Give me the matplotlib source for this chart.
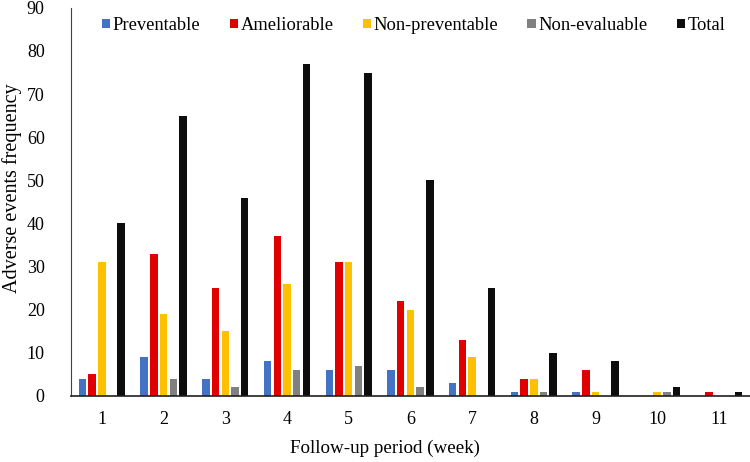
import matplotlib
matplotlib.use('Agg')
import matplotlib.pyplot as plt
import numpy as np

weeks = ['1', '2', '3', '4', '5', '6', '7', '8', '9', '10', '11']
preventable = [4, 9, 4, 8, 6, 6, 3, 1, 1, 0, 0]
ameliorable = [5, 33, 25, 37, 31, 22, 13, 4, 6, 0, 1]
non_preventable = [31, 19, 15, 26, 31, 20, 9, 4, 1, 1, 0]
non_evaluable = [0, 4, 2, 6, 7, 2, 0, 1, 0, 1, 0]
total = [40, 65, 46, 77, 75, 50, 25, 10, 8, 2, 1]

series = [
    ('Preventable', preventable, '#4472C4'),
    ('Ameliorable', ameliorable, '#E00000'),
    ('Non-preventable', non_preventable, '#FFC000'),
    ('Non-evaluable', non_evaluable, '#808080'),
    ('Total', total, '#0D0D0D'),
]

plt.rcParams['font.family'] = ['Liberation Serif', 'DejaVu Serif']

fig = plt.figure(figsize=(7.5, 4.62), dpi=100)
ax = fig.add_axes([0.0947, 0.143, 0.905, 0.84])

x = np.arange(len(weeks))
pitch = 0.157
width = 0.122
for i, (name, vals, col) in enumerate(series):
    ax.bar(x + (i - 2) * pitch, vals, width=width, color=col, label=name)

ax.set_xlim(-0.5, len(weeks) - 0.5)
ax.set_ylim(0, 90)
ax.set_yticks(range(0, 91, 10))
ax.set_xticks(x)
ax.set_xticklabels(weeks)
ax.tick_params(axis='both', length=0, labelsize=13)
ax.tick_params(axis='y', pad=19)
ax.tick_params(axis='x', pad=11)
for s in ['top', 'right']:
    ax.spines[s].set_visible(False)
ax.spines['left'].set_color('#404040')
ax.spines['bottom'].set_color('#202020')
ax.spines['bottom'].set_linewidth(1.2)

ax.set_xlabel('Follow-up period (week)', fontsize=13.7)
ax.xaxis.set_label_coords(0.462, -0.113)
ax.set_ylabel('Adverse events frequency', fontsize=14.5)
ax.yaxis.set_label_coords(-0.072, 0.536)

ax.legend(loc='upper left', bbox_to_anchor=(0.029, 1.004), ncol=5, frameon=False,
          fontsize=13.3, handlelength=0.45, handleheight=0.4, handletextpad=0.15,
          columnspacing=1.57, borderaxespad=0.2)

fig.savefig('out.png', dpi=100)
